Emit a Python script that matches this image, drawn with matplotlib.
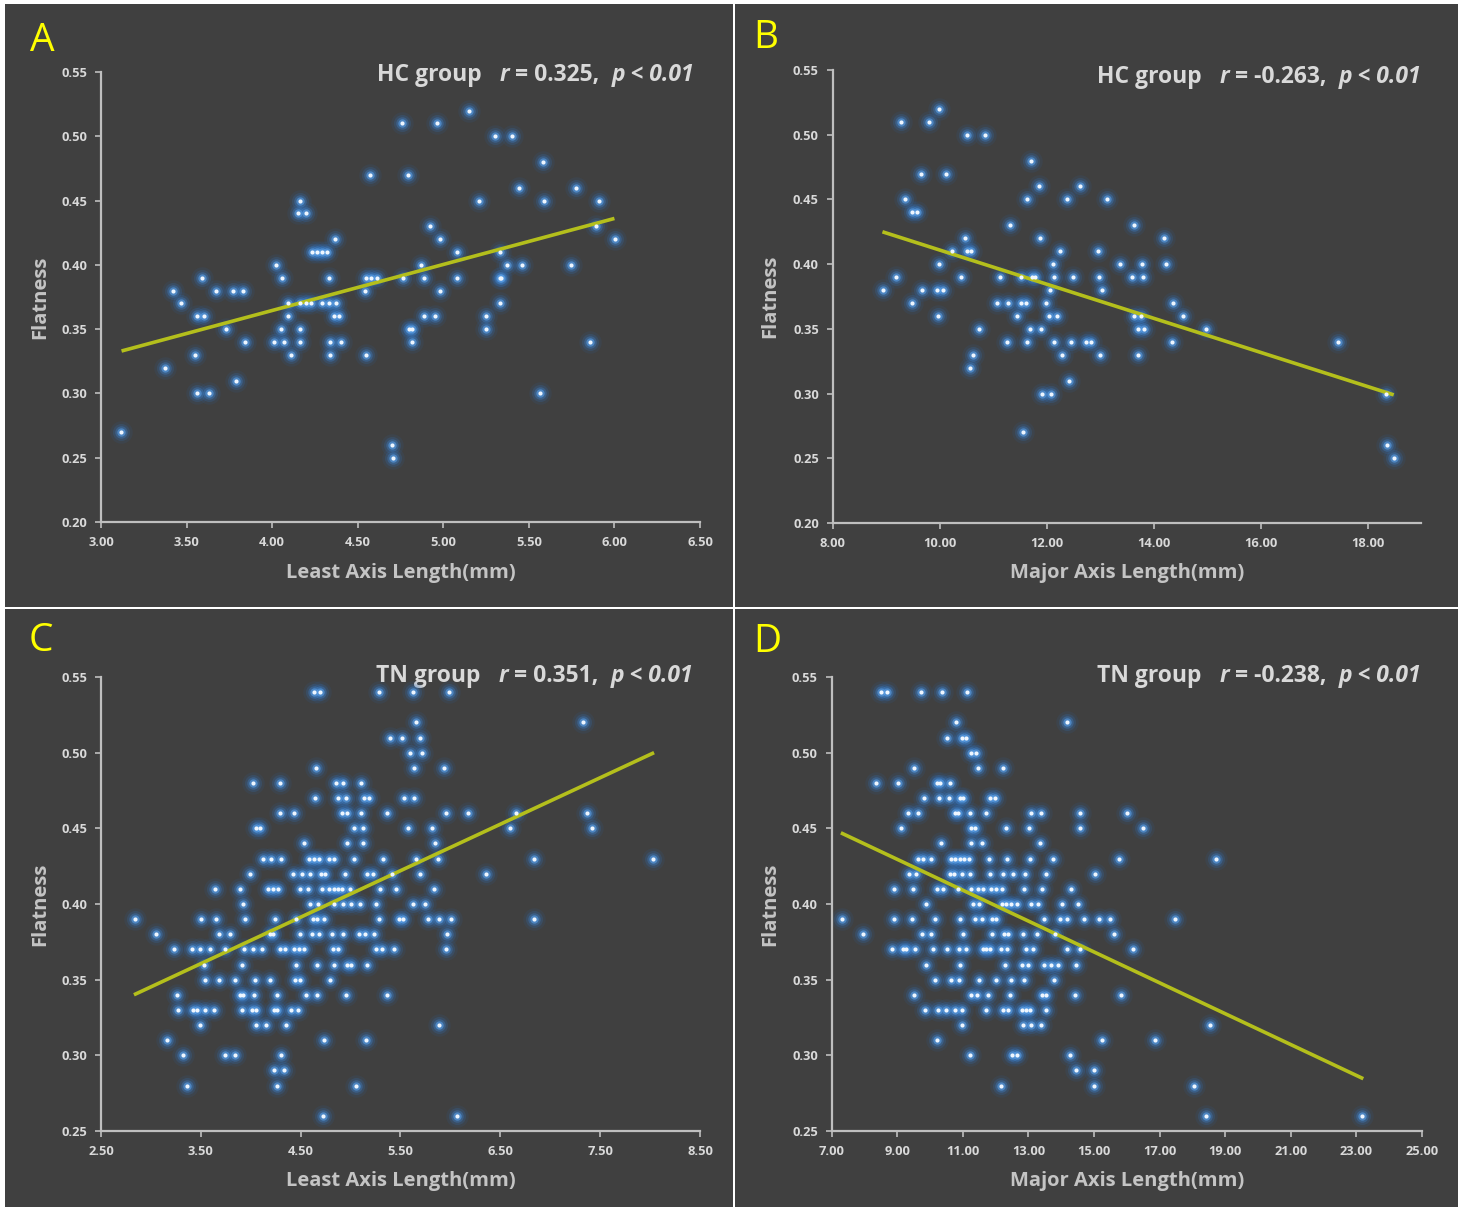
import matplotlib
matplotlib.use("Agg")
import matplotlib.pyplot as plt
import numpy as np
from matplotlib.patches import Rectangle
from matplotlib.offsetbox import TextArea, HPacker, AnnotationBbox

plt.rcParams['font.family'] = ['Open Sans', 'DejaVu Sans']

# ---------------- DATA ----------------
# Panel A: HC group, Least Axis Length vs Flatness (rows of equal flatness)
a_rows = [0.52, 0.51, 0.50, 0.48, 0.47, 0.46, 0.45, 0.44, 0.43, 0.42, 0.41, 0.40,
          0.39, 0.38, 0.37, 0.36, 0.35, 0.34, 0.33, 0.32, 0.31, 0.30, 0.27, 0.26, 0.25]
a_x = [[5.15], [4.757, 4.965], [5.30, 5.40], [5.58], [4.57, 4.795], [5.44, 5.775],
       [4.165, 5.21, 5.59, 5.91], [4.15, 4.20], [4.92, 5.89], [4.37, 4.98, 6.005],
       [4.235, 4.263, 4.29, 4.32, 5.08, 5.33], [4.02, 4.87, 5.37, 5.46, 5.745],
       [3.59, 4.06, 4.33, 4.55, 4.58, 4.61, 4.765, 4.89, 5.08, 5.33, 5.34],
       [3.42, 3.67, 3.77, 3.83, 4.54, 4.98],
       [3.466, 4.09, 4.165, 4.20, 4.225, 4.29, 4.33, 4.375, 5.33],
       [3.56, 3.60, 4.09, 4.36, 4.39, 4.89, 4.95, 5.25],
       [3.73, 4.05, 4.165, 4.80, 4.82, 5.25],
       [3.84, 4.01, 4.07, 4.165, 4.34, 4.40, 4.82, 5.855],
       [3.55, 4.11, 4.34, 4.55], [3.375], [3.79], [3.56, 3.63, 5.565],
       [3.115], [4.70], [4.705]]
a_fit = (0.2213, 0.0358)          # intercept, slope
a_fit_range = (3.12, 6.0)

# Panel B: HC group, Major Axis Length vs Flatness
b_rows = [0.52, 0.51, 0.50, 0.48, 0.47, 0.46, 0.45, 0.44, 0.43, 0.42, 0.41, 0.40,
          0.39, 0.38, 0.37, 0.36, 0.35, 0.34, 0.33, 0.32, 0.31, 0.30, 0.27, 0.26, 0.25]
b_x = [[9.99], [9.28, 9.80], [10.52, 10.85], [11.70], [9.65, 10.11], [11.85, 12.63],
       [9.35, 11.63, 12.38, 13.13], [9.49, 9.57], [11.31, 13.63], [10.48, 11.87, 14.20],
       [10.24, 10.51, 10.59, 12.25, 12.96], [9.98, 12.12, 13.38, 13.79, 14.23],
       [9.18, 10.40, 11.13, 11.53, 11.73, 11.78, 12.14, 12.50, 12.98, 13.59, 13.81],
       [8.94, 9.67, 9.95, 10.06, 12.06, 13.03],
       [9.48, 11.08, 11.28, 11.53, 11.62, 11.99, 14.37],
       [9.96, 11.45, 12.04, 12.20, 13.63, 13.76, 14.55],
       [10.74, 11.69, 11.90, 13.70, 13.83, 14.98],
       [11.25, 11.63, 12.14, 12.45, 12.74, 12.83, 14.35, 17.45],
       [10.62, 12.28, 13.00, 13.70], [10.56], [12.41], [11.92, 12.08, 18.35],
       [11.56], [18.37], [18.49]]
b_fit = (0.5427, -0.01318)
b_fit_range = (8.93, 18.49)

# Panel C: TN group, Least Axis Length vs Flatness
c_rows = [0.54, 0.52, 0.51, 0.50, 0.49, 0.48, 0.47, 0.46, 0.45, 0.44, 0.43, 0.42, 0.41,
          0.40, 0.39, 0.38, 0.37, 0.36, 0.35, 0.34, 0.33, 0.32, 0.31, 0.30, 0.29, 0.28, 0.26]
c_x = [[4.63, 4.69, 5.28, 5.63, 5.99], [5.66, 7.33], [5.39, 5.52, 5.70], [5.60, 5.72],
       [4.65, 5.64, 5.94], [4.02, 4.29, 4.85, 4.92, 5.10],
       [4.64, 4.87, 4.95, 5.13, 5.18, 5.54, 5.64],
       [4.29, 4.43, 4.91, 4.96, 5.10, 5.36, 5.96, 6.18, 6.66, 7.37],
       [4.05, 4.09, 5.03, 5.12, 5.58, 5.82, 6.60, 7.42],
       [4.53, 4.96, 5.12, 5.85],
       [4.12, 4.20, 4.30, 4.58, 4.63, 4.68, 4.78, 4.83, 5.03, 5.32, 5.66, 5.88, 6.84, 8.03],
       [3.99, 4.42, 4.51, 4.59, 4.70, 4.74, 4.94, 5.16, 5.22, 5.41, 5.70, 6.36],
       [3.64, 3.89, 4.17, 4.22, 4.27, 4.49, 4.57, 4.71, 4.78, 4.83, 4.87, 4.91, 4.99,
        5.29, 5.45, 5.84],
       [3.92, 4.59, 4.67, 4.83, 4.92, 5.00, 5.09, 5.25, 5.63, 5.75],
       [2.84, 3.50, 3.65, 3.94, 4.24, 4.45, 4.62, 4.66, 4.73, 5.28, 5.48, 5.53, 5.78,
        5.89, 6.01, 6.84],
       [3.05, 3.68, 3.79, 4.19, 4.22, 4.49, 4.61, 4.68, 4.81, 4.92, 5.08, 5.14, 5.23, 5.97],
       [3.23, 3.41, 3.49, 3.59, 3.74, 3.93, 4.02, 4.11, 4.29, 4.34, 4.43, 4.48, 4.53,
        4.82, 4.87, 5.25, 5.31, 5.43, 5.96],
       [3.53, 3.91, 4.45, 4.66, 4.83, 4.96, 5.00, 5.16],
       [3.54, 3.68, 3.84, 4.04, 4.19, 4.44, 4.49, 4.79],
       [3.26, 3.89, 3.92, 4.03, 4.26, 4.55, 4.66, 4.95, 5.36],
       [3.27, 3.42, 3.46, 3.54, 3.63, 3.91, 4.01, 4.05, 4.23, 4.26, 4.40, 4.47],
       [3.49, 4.05, 4.15, 4.35, 5.89], [3.16, 4.73, 5.15], [3.32, 3.74, 3.84, 4.30],
       [4.23, 4.33], [3.36, 4.26, 5.05], [4.72, 6.07]]
c_fit = (0.2531, 0.03071)
c_fit_range = (2.83, 8.04)

# Panel D: TN group, Major Axis Length vs Flatness
d_rows = [0.54, 0.52, 0.51, 0.50, 0.49, 0.48, 0.47, 0.46, 0.45, 0.44, 0.43, 0.42, 0.41,
          0.40, 0.39, 0.38, 0.37, 0.36, 0.35, 0.34, 0.33, 0.32, 0.31, 0.30, 0.29, 0.28, 0.26]
d_x = [[8.50, 8.70, 9.72, 10.35, 11.14], [10.79, 14.17], [10.53, 10.96, 11.11],
       [11.26, 11.40], [9.50, 11.45, 12.22], [8.36, 9.01, 10.20, 10.30, 10.60],
       [9.81, 10.27, 10.57, 10.91, 11.01, 11.84, 11.97],
       [9.33, 9.62, 10.76, 10.86, 11.23, 11.71, 13.07, 13.38, 14.58, 16.00],
       [9.11, 11.26, 11.37, 12.33, 13.01, 14.56, 16.49],
       [10.32, 11.26, 11.57, 13.35],
       [9.62, 9.79, 10.02, 10.63, 10.76, 10.91, 11.04, 11.18, 11.80, 12.36, 13.04, 13.75,
        15.76, 18.71],
       [9.35, 9.56, 10.60, 10.74, 10.98, 11.23, 11.82, 12.23, 12.53, 12.89, 13.52, 15.04],
       [8.91, 9.47, 10.20, 10.40, 10.86, 11.26, 11.47, 11.62, 11.87, 12.02, 12.18, 12.87,
        13.42, 14.31],
       [9.89, 11.31, 11.50, 12.18, 12.33, 12.48, 12.66, 13.08, 13.28, 14.02, 14.52],
       [7.30, 8.91, 9.46, 10.15, 10.91, 11.38, 11.57, 11.89, 12.02, 13.47, 13.95, 14.16,
        14.68, 15.15, 15.48, 17.46],
       [7.96, 9.74, 10.02, 10.99, 11.89, 12.26, 12.38, 12.84, 13.27, 13.82, 15.60],
       [8.85, 9.18, 9.28, 9.54, 10.08, 10.53, 10.88, 11.11, 11.62, 11.72, 11.82, 12.16,
        12.36, 12.94, 13.14, 14.19, 14.56, 16.19],
       [9.87, 10.91, 12.28, 12.79, 12.99, 13.47, 13.70, 13.90, 14.46],
       [10.15, 10.63, 10.88, 11.49, 12.02, 12.48, 12.87, 13.78],
       [9.52, 11.26, 11.42, 11.77, 12.43, 13.40, 13.52, 14.43, 15.81],
       [9.86, 10.25, 10.50, 10.76, 10.96, 11.72, 12.23, 12.38, 12.81, 12.94, 13.04, 13.52],
       [10.98, 12.84, 13.09, 13.38, 18.55], [10.20, 15.25, 16.85],
       [11.23, 12.50, 12.66, 14.26], [14.46, 15.00], [12.15, 15.00, 18.04],
       [18.42, 23.17]]
d_fit = (0.5213, -0.0102)
d_fit_range = (7.28, 23.21)

panel_letters = ["A", "B", "C", "D"]
group_names = ["HC group", "HC group", "TN group", "TN group"]
r_texts = ["0.325", "-0.263", "0.351", "-0.238"]
x_labels = ["Least Axis Length(mm)", "Major Axis Length(mm)",
            "Least Axis Length(mm)", "Major Axis Length(mm)"]
x_ticks = [np.arange(3.0, 6.51, 0.5), np.arange(8.0, 18.01, 2.0),
           np.arange(2.5, 8.51, 1.0), np.arange(7.0, 25.01, 2.0)]
x_lims = [(3.0, 6.5), (8.0, 19.0), (2.5, 8.5), (7.0, 25.0)]
y_ticks = [np.arange(0.20, 0.551, 0.05), np.arange(0.20, 0.551, 0.05),
           np.arange(0.25, 0.551, 0.05), np.arange(0.25, 0.551, 0.05)]
y_lims = [(0.20, 0.55), (0.20, 0.55), (0.25, 0.55), (0.25, 0.55)]

# ---------------- STYLE / LAYOUT ----------------
W, H = 1465, 1209
BG = "#404040"
TXT = "#d9d9d9"
LBL = "#c4c4c4"
SPINE = "#bfbfbf"
LINE = "#b4bf1c"

fig = plt.figure(figsize=(W / 100, H / 100), dpi=100, facecolor="white")

def fx(px):
    return px / W

def fy(py):
    return 1 - py / H

# panel backgrounds (pixel boxes: x0, y0, x1, y1)
panel_boxes = [(5, 4, 733, 607), (735, 4, 1458, 607), (5, 609, 733, 1207), (735, 609, 1458, 1207)]
for (x0, y0, x1, y1) in panel_boxes:
    fig.patches.append(Rectangle((fx(x0), fy(y1)), fx(x1 - x0), (y1 - y0) / H,
                                 transform=fig.transFigure, facecolor=BG,
                                 edgecolor="none", zorder=-10))

axes_boxes = [(101, 72, 700, 522), (832.7, 70, 1421, 523),
              (101, 677, 700, 1131), (831.7, 677, 1422, 1131)]
letter_pos = [(42, 41), (766, 38), (41, 641), (767, 642)]
title_pos = [(694, 75), (1421, 77), (693, 676), (1421, 676)]
xlabel_y = [573, 573, 1181, 1181]
ylabel_x = [40, 770, 40, 770]

datasets = [(a_rows, a_x, a_fit, a_fit_range), (b_rows, b_x, b_fit, b_fit_range),
            (c_rows, c_x, c_fit, c_fit_range), (d_rows, d_x, d_fit, d_fit_range)]

for i in range(4):
    x0, y0, x1, y1 = axes_boxes[i]
    ax = fig.add_axes([fx(x0), fy(y1), fx(x1 - x0), (y1 - y0) / H])
    ax.set_zorder(5)
    ax.set_facecolor("none")
    rows, xs, fit, frange = datasets[i]
    px = np.array([v for r, xl in zip(rows, xs) for v in xl])
    py = np.array([r for r, xl in zip(rows, xs) for v in xl])
    # glow
    for s, c, a, z in [(260, "#2a64a8", 0.12, 2), (150, "#3274c0", 0.20, 2.5),
                       (80, "#3f86d4", 0.32, 3), (36, "#5aa0e8", 0.6, 4)]:
        ax.scatter(px, py, s=s, color=c, alpha=a, linewidths=0, zorder=z, clip_on=False)
    ax.scatter(px, py, s=9, color="#eef6ff", linewidths=0, zorder=6, clip_on=False)
    # trend line
    lx = np.array(frange)
    ax.plot(lx, fit[0] + fit[1] * lx, color=LINE, lw=2.6, zorder=5,
            solid_capstyle="butt")

    ax.set_xlim(*x_lims[i])
    ax.set_ylim(*y_lims[i])
    ax.set_xticks(x_ticks[i])
    ax.set_yticks(y_ticks[i])
    ax.set_xticklabels([f"{v:.2f}" for v in x_ticks[i]])
    ax.set_yticklabels([f"{v:.2f}" for v in y_ticks[i]])
    for s in ["top", "right"]:
        ax.spines[s].set_visible(False)
    for s in ["left", "bottom"]:
        ax.spines[s].set_color(SPINE)
        ax.spines[s].set_linewidth(1.6)
    ax.tick_params(axis="both", colors=SPINE, length=4, width=1.2, direction="out",
                   labelcolor=TXT, labelsize=9.3, pad=6)
    for lab in ax.get_xticklabels() + ax.get_yticklabels():
        lab.set_fontweight("bold")

    # axis labels
    fig.text(fx((x0 + x1) / 2), fy(xlabel_y[i]), x_labels[i], ha="center", va="center",
             fontsize=14.5, fontweight="bold", color=LBL)
    fig.text(fx(ylabel_x[i]), fy((y0 + y1) / 2), "Flatness", ha="center", va="center",
             rotation=90, fontsize=14.5, fontweight="bold", color=LBL)

    # panel letter
    fig.text(fx(letter_pos[i][0]), fy(letter_pos[i][1]), panel_letters[i], ha="center",
             va="center", fontsize=28, color="#ffff00")

    # title
    tp = dict(color=TXT, fontsize=16.5, fontweight="bold")
    ti = dict(color=TXT, fontsize=16.5, fontweight="bold", fontstyle="italic")
    parts = [TextArea(group_names[i] + "   ", textprops=tp),
             TextArea("r", textprops=ti),
             TextArea(" = " + r_texts[i] + ",  ", textprops=tp),
             TextArea("p < 0.01", textprops=ti)]
    pack = HPacker(children=parts, align="baseline", pad=0, sep=0)
    ab = AnnotationBbox(pack, (fx(title_pos[i][0]), fy(title_pos[i][1])),
                        xycoords="figure fraction", box_alignment=(1, 0.5),
                        frameon=False, pad=0)
    fig.add_artist(ab)

fig.savefig("out.png", dpi=100, facecolor="white")
